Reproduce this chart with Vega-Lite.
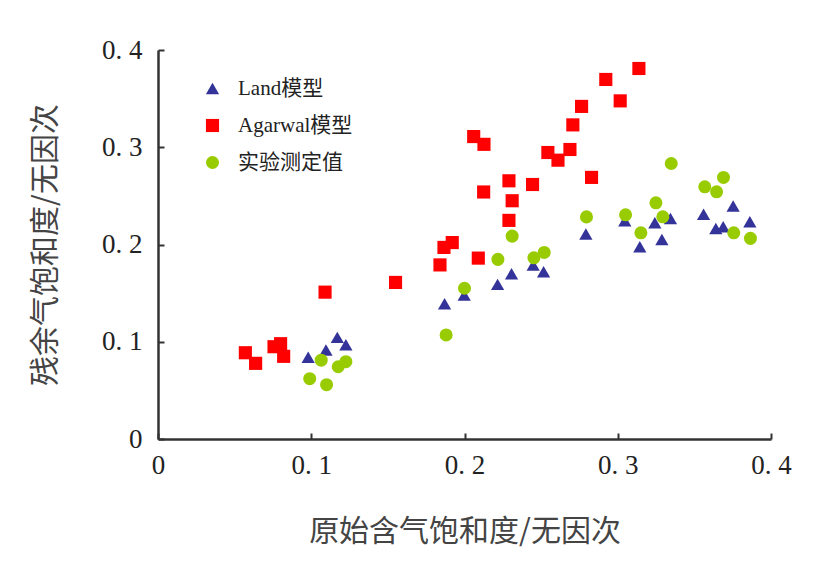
{
  "$schema": "https://vega.github.io/schema/vega-lite/v6.json",
  "width": 613,
  "height": 389,
  "autosize": {"type": "none"},
  "padding": {"left": 158, "top": 50, "right": 53, "bottom": 138},
  "background": "white",
  "config": {"view": {"stroke": null}},
  "data": {
    "values": [
      {"series": "Land模型", "x": 0.098, "y": 0.084},
      {"series": "Land模型", "x": 0.1096, "y": 0.0915},
      {"series": "Land模型", "x": 0.117, "y": 0.1045},
      {"series": "Land模型", "x": 0.1226, "y": 0.097},
      {"series": "Land模型", "x": 0.187, "y": 0.139},
      {"series": "Land模型", "x": 0.1998, "y": 0.148},
      {"series": "Land模型", "x": 0.2216, "y": 0.159},
      {"series": "Land模型", "x": 0.2307, "y": 0.170},
      {"series": "Land模型", "x": 0.2448, "y": 0.179},
      {"series": "Land模型", "x": 0.2516, "y": 0.172},
      {"series": "Land模型", "x": 0.2792, "y": 0.2107},
      {"series": "Land模型", "x": 0.3046, "y": 0.2244},
      {"series": "Land模型", "x": 0.3144, "y": 0.1977},
      {"series": "Land模型", "x": 0.3242, "y": 0.2223},
      {"series": "Land模型", "x": 0.3288, "y": 0.2052},
      {"series": "Land模型", "x": 0.3344, "y": 0.2268},
      {"series": "Land模型", "x": 0.356, "y": 0.231},
      {"series": "Land模型", "x": 0.364, "y": 0.2165},
      {"series": "Land模型", "x": 0.3688, "y": 0.2182},
      {"series": "Land模型", "x": 0.3753, "y": 0.2395},
      {"series": "Land模型", "x": 0.3862, "y": 0.2233},
      {"series": "Agarwal模型", "x": 0.057, "y": 0.0887},
      {"series": "Agarwal模型", "x": 0.0637, "y": 0.0778},
      {"series": "Agarwal模型", "x": 0.0757, "y": 0.0949},
      {"series": "Agarwal模型", "x": 0.080, "y": 0.098},
      {"series": "Agarwal模型", "x": 0.082, "y": 0.085},
      {"series": "Agarwal模型", "x": 0.109, "y": 0.151},
      {"series": "Agarwal模型", "x": 0.155, "y": 0.161},
      {"series": "Agarwal模型", "x": 0.184, "y": 0.179},
      {"series": "Agarwal模型", "x": 0.1866, "y": 0.197},
      {"series": "Agarwal模型", "x": 0.192, "y": 0.202},
      {"series": "Agarwal模型", "x": 0.209, "y": 0.186},
      {"series": "Agarwal模型", "x": 0.206, "y": 0.311},
      {"series": "Agarwal模型", "x": 0.2127, "y": 0.303},
      {"series": "Agarwal模型", "x": 0.2125, "y": 0.254},
      {"series": "Agarwal模型", "x": 0.229, "y": 0.2655},
      {"series": "Agarwal模型", "x": 0.2311, "y": 0.245},
      {"series": "Agarwal模型", "x": 0.229, "y": 0.2248},
      {"series": "Agarwal模型", "x": 0.2444, "y": 0.2617},
      {"series": "Agarwal模型", "x": 0.2544, "y": 0.2946},
      {"series": "Agarwal模型", "x": 0.261, "y": 0.2867},
      {"series": "Agarwal模型", "x": 0.2688, "y": 0.2977},
      {"series": "Agarwal模型", "x": 0.2707, "y": 0.323},
      {"series": "Agarwal模型", "x": 0.2764, "y": 0.342},
      {"series": "Agarwal模型", "x": 0.2829, "y": 0.269},
      {"series": "Agarwal模型", "x": 0.2922, "y": 0.3697},
      {"series": "Agarwal模型", "x": 0.3016, "y": 0.3477},
      {"series": "Agarwal模型", "x": 0.3138, "y": 0.381},
      {"series": "实验测定值", "x": 0.099, "y": 0.062},
      {"series": "实验测定值", "x": 0.1065, "y": 0.081},
      {"series": "实验测定值", "x": 0.110, "y": 0.0558},
      {"series": "实验测定值", "x": 0.1176, "y": 0.0743},
      {"series": "实验测定值", "x": 0.1226, "y": 0.0795},
      {"series": "实验测定值", "x": 0.188, "y": 0.107},
      {"series": "实验测定值", "x": 0.200, "y": 0.155},
      {"series": "实验测定值", "x": 0.2218, "y": 0.1847},
      {"series": "实验测定值", "x": 0.2311, "y": 0.2086},
      {"series": "实验测定值", "x": 0.2453, "y": 0.1863},
      {"series": "实验测定值", "x": 0.252, "y": 0.1918},
      {"series": "实验测定值", "x": 0.2796, "y": 0.2284},
      {"series": "实验测定值", "x": 0.3051, "y": 0.2305},
      {"series": "实验测定值", "x": 0.3151, "y": 0.212},
      {"series": "实验测定值", "x": 0.3249, "y": 0.2429},
      {"series": "实验测定值", "x": 0.3294, "y": 0.2285},
      {"series": "实验测定值", "x": 0.3349, "y": 0.2833},
      {"series": "实验测定值", "x": 0.3568, "y": 0.2593},
      {"series": "实验测定值", "x": 0.3645, "y": 0.2542},
      {"series": "实验测定值", "x": 0.369, "y": 0.269},
      {"series": "实验测定值", "x": 0.3757, "y": 0.212},
      {"series": "实验测定值", "x": 0.3866, "y": 0.2063}
    ]
  },
  "mark": {"type": "point", "filled": true, "opacity": 1, "strokeWidth": 0},
  "encoding": {
    "x": {
      "field": "x", "type": "quantitative",
      "scale": {"domain": [0, 0.4], "nice": false, "zero": true},
      "axis": {
        "values": [0, 0.1, 0.2, 0.3, 0.4],
        "grid": false,
        "title": "原始含气饱和度/无因次",
        "labelExpr": "datum.value == 0 ? '0' : replace(format(datum.value, '.1f'), '.', '. ')",
        "labelFont": "Liberation Serif", "labelFontSize": 27, "labelColor": "#222",
        "labelPadding": 19, "labelFlush": false, "labelOverlap": false,
        "domainColor": "#333", "domainWidth": 2.5,
        "tickColor": "#333", "tickWidth": 2, "tickSize": -6,
        "titleFont": "Noto Sans CJK SC", "titleFontSize": 30, "titleFontWeight": "normal", "titleColor": "#444",
        "titleX": 306.5, "titleY": 92, "titleBaseline": "middle", "titleAlign": "center"
      }
    },
    "y": {
      "field": "y", "type": "quantitative",
      "scale": {"domain": [0, 0.4], "nice": false, "zero": true},
      "axis": {
        "values": [0, 0.1, 0.2, 0.3, 0.4],
        "grid": false,
        "title": "残余气饱和度/无因次",
        "labelExpr": "datum.value == 0 ? '0' : replace(format(datum.value, '.1f'), '.', '. ')",
        "labelFont": "Liberation Serif", "labelFontSize": 27, "labelColor": "#222",
        "labelPadding": 22, "labelFlush": false, "labelOverlap": false,
        "domainColor": "#333", "domainWidth": 2.5,
        "tickColor": "#333", "tickWidth": 2, "tickSize": -6,
        "titleFont": "Noto Sans CJK SC", "titleFontSize": 30, "titleFontWeight": "normal", "titleColor": "#444",
        "titleX": -113, "titleY": 194.5, "titleAngle": -90, "titleBaseline": "middle", "titleAlign": "center"
      }
    },
    "color": {
      "field": "series", "type": "nominal",
      "scale": {"domain": ["Land模型", "Agarwal模型", "实验测定值"], "range": ["#333399", "#FF0000", "#99CC00"]},
      "legend": {
        "title": null, "orient": "none", "legendX": 44, "legendY": 28,
        "symbolSize": 100, "symbolStrokeWidth": 0, "symbolOpacity": 1,
        "labelFont": "Liberation Serif, Noto Sans CJK SC", "labelFontSize": 21, "labelColor": "#222",
        "labelOffset": 15, "rowPadding": 15, "padding": 0
      }
    },
    "shape": {
      "field": "series", "type": "nominal",
      "scale": {"domain": ["Land模型", "Agarwal模型", "实验测定值"], "range": ["triangle-up", "square", "circle"]}
    },
    "size": {
      "field": "series", "type": "nominal", "legend": null,
      "scale": {"domain": ["Land模型", "Agarwal模型", "实验测定值"], "range": [175, 170, 150]}
    },
    "order": {"value": 0}
  }
}
